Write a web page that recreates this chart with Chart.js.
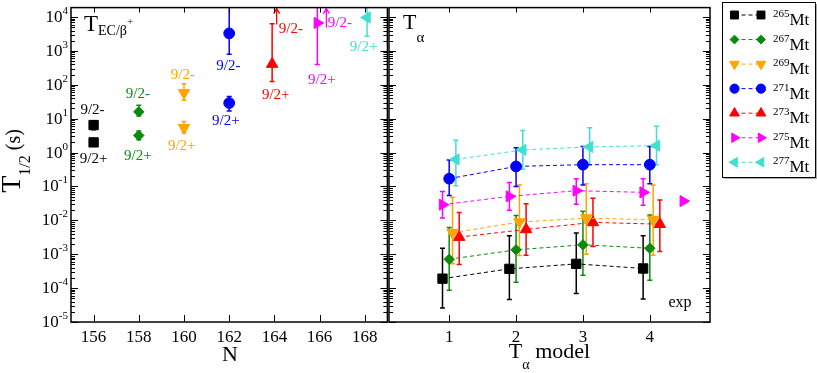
<!DOCTYPE html>
<html>
<head>
<meta charset="utf-8">
<script src="https://cdn.jsdelivr.net/npm/chart.js@4.4.1/dist/chart.umd.min.js"></script>
<style>
  html, body { margin: 0; padding: 0; background: #fff; }
  #wrap { position: relative; width: 817px; height: 373px; overflow: hidden; }
  canvas { position: absolute; top: 0; }
  #left { left: 0; }
  #right { left: 380px; }
</style>
</head>
<body>
<div id="wrap">
  <canvas id="left" width="395" height="373"></canvas>
  <canvas id="right" width="437" height="373"></canvas>
</div>
<script>
// isotopes shown in both panels
const isotopes = ['265', '267', '269', '271', '273', '275', '277'];

// left panel: EC/beta+ half-lives (s) vs neutron number N
const nTicks = [156, 158, 160, 162, 164, 166, 168];
const ecN = [156, 158, 160, 162, 163.9, 165.9, 168.1];
const ecMinus = [6.5, 16, 58, 3300, null, null, null];        // 9/2- state
const ecMinusLow = [4.7, 12, 35, 800, null, null, null];
const ecMinusHigh = [8.7, 25, 107, 1e5, null, null, null];
const ecPlus = [2.0, 3.2, 5.4, 29, 410, 6700, 9700];           // 9/2+ state
const ecPlusLow = [null, 2.4, 3.8, 17, 125, 400, 2700];
const ecPlusHigh = [null, 4.3, 8.3, 45, 6300, 1e5, 1e5];
const ecLimitN = [null, null, null, null, 164.1, 166.3, null];  // 9/2- lower limits
const ecLimit = [null, null, null, null, 6000, 4900, null];

// spin labels: [text, isotope index, N, T]
const spinLabels = [
  ['9/2-', 0, 155.95, 17.7], ['9/2+', 0, 156.0, 0.66],
  ['9/2-', 1, 157.96, 55], ['9/2+', 1, 157.96, 0.81],
  ['9/2-', 2, 159.95, 195], ['9/2+', 2, 159.9, 1.58],
  ['9/2-', 3, 161.96, 359], ['9/2+', 3, 161.85, 8.5],
  ['9/2-', 4, 164.73, 4570], ['9/2+', 4, 164.06, 51],
  ['9/2-', 5, 166.9, 6800], ['9/2+', 5, 166.1, 141],
  ['9/2+', 6, 167.95, 1290]
];

// right panel: alpha half-lives (s) for the four T_alpha models
const models = [1, 2, 3, 4];
const modelShift = [-0.1, 0, 0.05, 0, 0.15, -0.1, 0.1];
const ta265 = [1.9e-4, 3.7e-4, 5.2e-4, 3.8e-4];
const ta265Low = [2.6e-5, 4.6e-5, 6.9e-5, 4.8e-5];
const ta265High = [1.5e-3, 3.5e-3, 4.2e-3, 3.5e-3];
const ta267 = [7.1e-4, 1.35e-3, 1.9e-3, 1.5e-3];
const ta267Low = [8.7e-5, 1.5e-4, 2.4e-4, 1.7e-4];
const ta267High = [6.1e-3, 0.0138, 0.0185, 0.0145];
const ta269 = [4.3e-3, 8.9e-3, 0.0116, 0.0105];
const ta269Low = [5.2e-4, 9.1e-4, 1.0e-3, 9.3e-4];
const ta269High = [0.048, 0.11, 0.12, 0.11];
const ta271 = [0.17, 0.39, 0.44, 0.44];
const ta271Low = [0.054, 0.1, 0.11, 0.12];
const ta271High = [0.6, 1.4, 1.5, 1.5];
const ta273 = [3.2e-3, 5.4e-3, 8.7e-3, 7.7e-3];
const ta273Low = [5.0e-4, 9.3e-4, 1.7e-3, 1.2e-3];
const ta273High = [0.017, 0.031, 0.045, 0.04];
const ta275 = [0.029, 0.051, 0.075, 0.067];
const ta275Low = [0.0118, 0.02, 0.03, 0.028];
const ta275High = [0.071, 0.13, 0.17, 0.17];
const ta277 = [0.63, 1.2, 1.47, 1.6];
const ta277Low = [0.105, 0.32, 0.42, 0.44];
const ta277High = [2.3, 4.5, 5.4, 6.0];
const expModel = 4.5;
const exp275 = 0.037;

const yExponents = [-5, -4, -3, -2, -1, 0, 1, 2, 3, 4];

// styles
const colors = ['#000000', '#0b8b0b', '#ffa500', '#0000ff', '#ff0000', '#ff00ff', '#40e0d0'];
const styles = ['rect', 'rectRot', 'triangle', 'circle', 'triangle', 'triangle', 'triangle'];
const rotations = [0, 0, 180, 0, 0, 90, -90];
const radii = [6.6, 5.2, 6.6, 5.4, 6.6, 6.4, 6.4];
const serif = "'Liberation Serif', 'Times New Roman', serif";

const taSets = [
  [ta265, ta265Low, ta265High], [ta267, ta267Low, ta267High], [ta269, ta269Low, ta269High],
  [ta271, ta271Low, ta271High], [ta273, ta273Low, ta273High], [ta275, ta275Low, ta275High],
  [ta277, ta277Low, ta277High]
];

function drawRuns(ctx, x, y, runs, align) {
  let total = 0;
  runs.forEach(r => { ctx.font = r[1] + 'px ' + serif; total += ctx.measureText(r[0]).width; });
  let cx = align === 'center' ? x - total / 2 : (align === 'right' ? x - total : x);
  ctx.textAlign = 'left';
  ctx.textBaseline = 'alphabetic';
  runs.forEach(r => {
    ctx.font = r[1] + 'px ' + serif;
    ctx.fillText(r[0], cx, y + r[2]);
    cx += ctx.measureText(r[0]).width;
  });
}

function errorBar(chart, xv, lo, hi, color, cap) {
  if (lo == null || hi == null) return;
  const { ctx, chartArea: a, scales } = chart;
  const px = scales.x.getPixelForValue(xv);
  let y1 = scales.y.getPixelForValue(lo);
  let y2 = scales.y.getPixelForValue(hi);
  ctx.save();
  ctx.strokeStyle = color;
  ctx.lineWidth = 1.5;
  ctx.beginPath();
  ctx.moveTo(px, Math.min(y1, a.bottom));
  ctx.lineTo(px, Math.max(y2, a.top));
  if (y1 <= a.bottom) { ctx.moveTo(px - cap, y1); ctx.lineTo(px + cap, y1); }
  if (y2 >= a.top) { ctx.moveTo(px - cap, y2); ctx.lineTo(px + cap, y2); }
  ctx.stroke();
  ctx.restore();
}

function drawFrame(chart, xTicks) {
  const { ctx, chartArea: a, scales: { x, y } } = chart;
  ctx.save();
  ctx.strokeStyle = '#000';
  ctx.lineWidth = 1;
  ctx.beginPath();
  yExponents.forEach(e => {
    for (let k = 1; k <= 9; k++) {
      const v = k * Math.pow(10, e);
      if (v < y.min || v > y.max) continue;
      const py = Math.round(y.getPixelForValue(v)) + 0.5;
      const len = k === 1 ? 7 : 4;
      ctx.moveTo(a.left, py); ctx.lineTo(a.left + len, py);
      ctx.moveTo(a.right, py); ctx.lineTo(a.right - len, py);
    }
  });
  xTicks.forEach(v => {
    const px = Math.round(x.getPixelForValue(v)) + 0.5;
    ctx.moveTo(px, a.bottom); ctx.lineTo(px, a.bottom - 7);
    ctx.moveTo(px, a.top); ctx.lineTo(px, a.top + 5);
  });
  ctx.stroke();
  ctx.lineWidth = 1.5;
  ctx.strokeRect(a.left, a.top, a.right - a.left, a.bottom - a.top);
  ctx.fillStyle = '#000';
  xTicks.forEach(v => {
    drawRuns(ctx, x.getPixelForValue(v), 342, [[String(v), 17, 0]], 'center');
  });
  ctx.restore();
}

function mark(ctx, i, x, y, r) {
  ctx.save();
  ctx.fillStyle = colors[i];
  ctx.strokeStyle = colors[i];
  ctx.lineWidth = 1;
  if (Chart.helpers && Chart.helpers.drawPoint) {
    Chart.helpers.drawPoint(ctx, { pointStyle: styles[i], rotation: rotations[i], radius: r, borderWidth: 1 }, x, y);
  } else {
    ctx.beginPath(); ctx.arc(x, y, r, 0, Math.PI * 2); ctx.fill();
  }
  ctx.restore();
}

const leftPanel = {
  id: 'leftPanel',
  beforeDatasetsDraw(chart) {
    const { ctx, chartArea: a, scales } = chart;
    isotopes.forEach((iso, i) => {
      errorBar(chart, ecN[i], ecMinusLow[i], ecMinusHigh[i], colors[i], 2.5);
      errorBar(chart, ecN[i], ecPlusLow[i], ecPlusHigh[i], colors[i], 2.5);
      if (ecLimit[i] != null) {
        const px = scales.x.getPixelForValue(ecLimitN[i]);
        const py = scales.y.getPixelForValue(ecLimit[i]);
        const top = a.top + 1;
        ctx.save();
        ctx.strokeStyle = colors[i];
        ctx.lineWidth = 1.3;
        ctx.beginPath();
        ctx.moveTo(px, py); ctx.lineTo(px, top);
        ctx.moveTo(px - 3, top + 5); ctx.lineTo(px, top); ctx.lineTo(px + 3, top + 5);
        ctx.stroke();
        ctx.restore();
      }
    });
  },
  afterDraw(chart) {
    const { ctx, scales: { x, y } } = chart;
    drawFrame(chart, nTicks);
    ctx.save();
    ctx.fillStyle = '#000';
    yExponents.forEach(e => {
      const py = y.getPixelForValue(Math.pow(10, e));
      drawRuns(ctx, 68, py + 5, [['10', 17, 0], [String(e), 11, -8]], 'right');
    });
    // spin labels
    ctx.textBaseline = 'middle';
    spinLabels.forEach(l => {
      ctx.fillStyle = colors[l[1]];
      ctx.font = '15px ' + serif;
      ctx.textAlign = 'center';
      ctx.textBaseline = 'middle';
      ctx.fillText(l[0], x.getPixelForValue(l[2]), y.getPixelForValue(l[3]));
    });
    ctx.fillStyle = '#000';
    drawRuns(ctx, 84, 31, [['T', 23, 0], ['EC/β', 14, 4], ['+', 11, -6]], 'left');
    drawRuns(ctx, 230, 361, [['N', 22, 0]], 'center');
    ctx.translate(20, 161);
    ctx.rotate(-Math.PI / 2);
    drawRuns(ctx, 0, 0, [['T', 28, 0], ['1/2', 16, 10], [' (s)', 20, 0]], 'center');
    ctx.restore();
  }
};

const rightPanel = {
  id: 'rightPanel',
  beforeDatasetsDraw(chart) {
    taSets.forEach((s, i) => {
      models.forEach((m, j) => errorBar(chart, m + modelShift[i], s[1][j], s[2][j], colors[i], 2.5));
    });
  },
  afterDraw(chart) {
    const ctx = chart.ctx;
    drawFrame(chart, models);
    ctx.save();
    ctx.fillStyle = '#000';
    drawRuns(ctx, 23, 29, [['T', 22, 0], ['α', 15, 13]], 'left');
    drawRuns(ctx, 169.5, 358, [['T', 22, 0], ['α', 14, 11], [' model', 22, 0]], 'center');
    drawRuns(ctx, 300, 307, [['exp', 16, 0]], 'center');
    // legend
    const bx = 342, by = 2, bw = 93, bh = 175;
    ctx.fillStyle = '#aaa';
    ctx.fillRect(bx + 2, by + 2, bw, bh);
    ctx.fillStyle = '#fff';
    ctx.fillRect(bx, by, bw, bh);
    ctx.strokeStyle = '#000';
    ctx.lineWidth = 1;
    ctx.strokeRect(bx + 0.5, by + 0.5, bw, bh);
    isotopes.forEach((iso, i) => {
      const yy = 15 + i * 24.55;
      ctx.strokeStyle = colors[i];
      ctx.setLineDash([4, 3]);
      ctx.beginPath();
      ctx.moveTo(354.5, yy); ctx.lineTo(381, yy);
      ctx.stroke();
      ctx.setLineDash([]);
      mark(ctx, i, 354.5, yy, radii[i] * 0.85);
      mark(ctx, i, 381, yy, radii[i] * 0.85);
      ctx.fillStyle = '#000';
      drawRuns(ctx, 393, yy + 10, [[iso, 11, -8], ['Mt', 17, 0]], 'left');
    });
    ctx.restore();
  }
};

function baseOptions(xMin, xMax, pad) {
  return {
    responsive: false,
    animation: false,
    events: [],
    layout: { padding: pad },
    plugins: { legend: { display: false }, tooltip: { enabled: false } },
    scales: {
      x: { type: 'linear', min: xMin, max: xMax, display: false },
      y: { type: 'logarithmic', min: 1e-5, max: 1.9e4, display: false }
    }
  };
}

function pointStyleOf(i) {
  return {
    pointStyle: styles[i], pointRotation: rotations[i], pointRadius: radii[i],
    pointBackgroundColor: colors[i], pointBorderColor: colors[i], pointBorderWidth: 1
  };
}

const leftSets = isotopes.map((iso, i) => Object.assign({
  label: iso + 'Mt',
  data: [{ x: ecN[i], y: ecMinus[i] }, { x: ecN[i], y: ecPlus[i] }].filter(p => p.y != null),
  showLine: false
}, pointStyleOf(i)));

new Chart(document.getElementById('left'), {
  type: 'scatter',
  data: { datasets: leftSets },
  options: baseOptions(155, 169, { left: 71, right: 6, top: 3, bottom: 51 }),
  plugins: [leftPanel]
});

const rightSets = taSets.map((s, i) => Object.assign({
  label: isotopes[i] + 'Mt',
  data: models.map((m, j) => ({ x: m + modelShift[i], y: s[0][j] })),
  showLine: true,
  borderColor: colors[i],
  borderWidth: 1,
  borderDash: [4, 3]
}, pointStyleOf(i)));
rightSets.push(Object.assign({
  label: 'exp',
  data: [{ x: expModel, y: exp275 }],
  showLine: false
}, pointStyleOf(5)));

new Chart(document.getElementById('right'), {
  type: 'scatter',
  data: { datasets: rightSets },
  options: baseOptions(0.1, 4.9, { left: 9, right: 107, top: 3, bottom: 51 }),
  plugins: [rightPanel]
});
</script>
</body>
</html>
